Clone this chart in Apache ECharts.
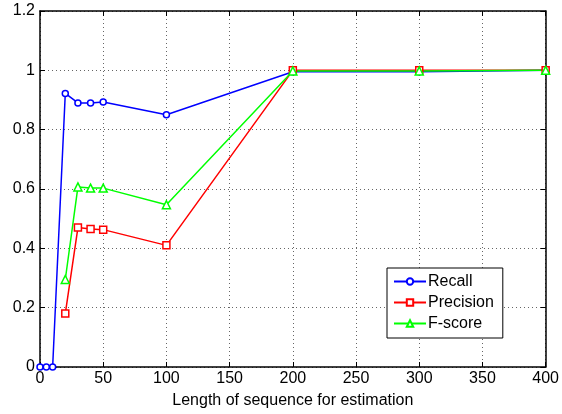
<!DOCTYPE html>
<html><head><meta charset="utf-8">
<script src="https://cdn.jsdelivr.net/npm/echarts@6/dist/echarts.min.js"></script>
<style>html,body{margin:0;padding:0;background:#fff}#c{width:562px;height:414px}</style>
</head><body><div id="c"></div>
<script>
const xs = [0, 5, 10, 20, 30, 40, 50, 100, 200, 300, 400];
const recall = [0, 0, 0, 0.922, 0.89, 0.89, 0.893, 0.85, 0.995, 0.995, 1.0];
const precision = [null, null, null, 0.18, 0.47, 0.465, 0.463, 0.41, 1.0, 1.0, 1.0];
const fscore = [null, null, null, 0.295, 0.607, 0.603, 0.603, 0.547, 0.998, 0.998, 1.0];
const xTitle = 'Length of sequence for estimation';

const pair = a => xs.map((x, i) => [x, a[i]]).filter(p => p[1] !== null);
const font = 'Liberation Sans, Arial, sans-serif';
const chart = echarts.init(document.getElementById('c'), null, {renderer: 'canvas'});
const axisCommon = {
  axisLine: {show: true, onZero: false, lineStyle: {color: '#000', width: 1.5}},
  axisTick: {show: true, inside: true, length: 5, lineStyle: {color: '#000'}},
};
function mk(name, data, color, symbol, size) {
  return {
    name, type: 'line', data: pair(data), symbol, symbolSize: size,
    showAllSymbol: true,
    lineStyle: {color, width: 1.5}, itemStyle: {color: '#fff', borderColor: color, borderWidth: 1.5},
    emphasis: {disabled: true}, animation: false
  };
}
chart.setOption({
  animation: false,
  grid: {left: 40, right: 16, top: 11, bottom: 44},
  legend: {
    orient: 'vertical', left: 387, top: 268,
    data: ['Recall', 'Precision', 'F-score'],
    itemWidth: 32, itemHeight: 8, itemGap: 4,
    padding: [5, 9, 6, 6],
    backgroundColor: '#fff', borderColor: '#000', borderWidth: 1,
    textStyle: {fontFamily: font, fontSize: 16, lineHeight: 17, color: '#000', padding: [0, 0, 0, -3]}
  },
  xAxis: [{
    type: 'value', min: 0, max: 400, interval: 50,
    name: xTitle, nameLocation: 'middle', nameGap: 26,
    nameTextStyle: {fontFamily: font, fontSize: 16, color: '#000'},
    ...axisCommon,
    axisLabel: {fontFamily: font, fontSize: 16, color: '#000', margin: 4},
    splitLine: {show: true, lineStyle: {color: '#666', type: [1, 3], width: 1}}
  }, {
    type: 'value', min: 0, max: 400, interval: 50, position: 'top',
    ...axisCommon, axisLabel: {show: false}, splitLine: {show: false}
  }],
  yAxis: [{
    type: 'value', min: 0, max: 1.2, interval: 0.2,
    ...axisCommon,
    axisLabel: {fontFamily: font, fontSize: 16, color: '#000', margin: 5,
      formatter: v => String(Math.round(v * 10) / 10)},
    splitLine: {show: true, lineStyle: {color: '#666', type: [1, 3], width: 1}}
  }, {
    type: 'value', min: 0, max: 1.2, interval: 0.2, position: 'right',
    ...axisCommon, axisLabel: {show: false}, splitLine: {show: false}
  }],
  series: [
    mk('Recall', recall, '#0000ff', 'circle', 6),
    mk('Precision', precision, '#ff0000', 'rect', 7),
    mk('F-score', fscore, '#00ff00', 'triangle', 8)
  ]
});
</script></body></html>
